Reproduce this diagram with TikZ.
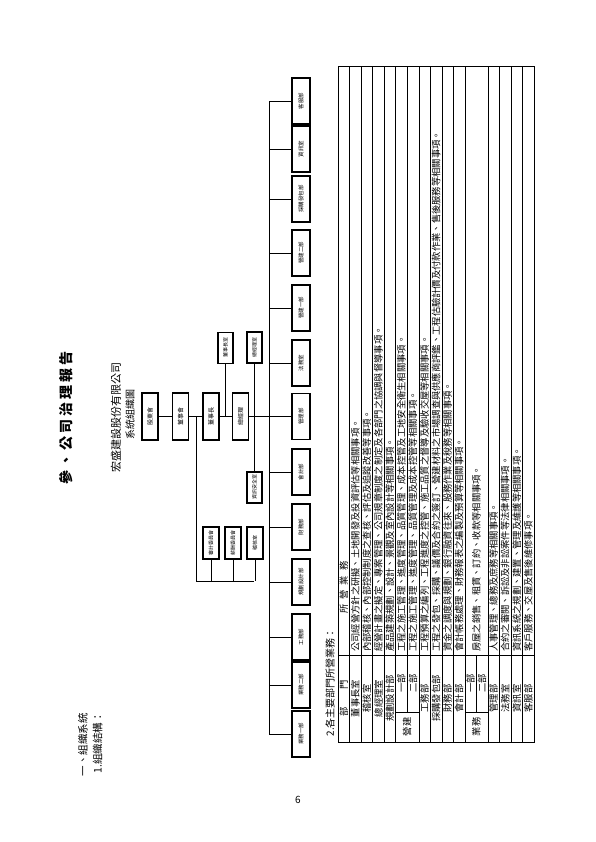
\documentclass[tikz,border=0pt]{standalone}
\usepackage{fontspec}
\setmainfont{Noto Sans CJK TC}

\tikzset{
  orgbox/.style={draw, line width=1.1pt, inner sep=0pt, align=center},
  topbox/.style={orgbox, minimum width=47pt, minimum height=16pt, font=\fontsize{6}{7}\selectfont},
  deptbox/.style={orgbox, minimum width=46pt, minimum height=18pt, font=\fontsize{5.5}{6}\selectfont},
  sidebox/.style={orgbox, minimum width=31pt, minimum height=15pt, font=\fontsize{5}{6}\selectfont},
  link/.style={line width=0.8pt},
  celltext/.style={anchor=west, inner sep=0pt, font=\fontsize{9.3}{10}\selectfont},
  cellname/.style={inner sep=0pt, font=\fontsize{9.3}{10}\selectfont}
}

\begin{document}
\begin{tikzpicture}[x=1pt, y=1pt]
  \useasboundingbox (0,0) rectangle (595,842);

  % page number (upright)
  \node[font=\fontsize{10}{12}\selectfont] (pgnum) at (298,42) {6};

  % the page content is set sideways
  \begin{scope}[shift={(595,0)}, rotate=90, transform shape]

    % --- Headings ---
    \node[font=\fontsize{14}{16}\selectfont\bfseries] (title) at (424,529)
      {參\hspace{3pt}、\hspace{3pt}公\hspace{3pt}司\hspace{3pt}治\hspace{3pt}理\hspace{3pt}報\hspace{3pt}告};
    \node[anchor=west, font=\fontsize{10.5}{12}\selectfont] (secI) at (62,512) {一、組織系統};
    \node[anchor=west, font=\fontsize{10.5}{12}\selectfont] (secIa) at (65,497.5) {1.組織結構：};
    \node[font=\fontsize{11}{13}\selectfont] (company) at (424,479) {宏盛建設股份有限公司};
    \node[font=\fontsize{10}{12}\selectfont] (chartname) at (427,465) {系統組織圖};

    % --- Main line of command ---
    \node[topbox] (gdh) at (425.5,445) {股東會};
    \node[topbox] (dsh) at (425.5,414.5) {董事會};
    \node[topbox] (dsz) at (425.5,384) {董事長};
    \node[topbox] (zjl) at (425.5,354.5) {總經理};
    \draw[link] (gdh) -- (dsh);
    \draw[link] (dsh) -- (dsz);
    \draw[link] (dsz) -- (zjl);

    % staff units
    \node[sidebox] (dszs) at (494,369.5) {董事長室};
    \draw[link] (dszs.west) -- (dszs.west -| dsz.center);
    \node[sidebox] (zjls) at (494.5,340.5) {總經理室};
    \node[sidebox] (zxs) at (354.5,340.5) {資訊安全室};
    \draw[link] (zxs.east) -- (zjls.west);

    % committees under the board
    \coordinate (cmA) at (425.5,399);
    \coordinate (cmB) at (261,399);
    \coordinate (cmC) at (261,341);
    \draw[link] (cmA) -- (cmB) -- (cmC);
    \node[sidebox, minimum width=32pt, minimum height=16pt] (cmt1) at (299,384) {審計委員會};
    \node[sidebox, minimum width=32pt, minimum height=16pt] (cmt2) at (299,362) {薪酬委員會};
    \node[sidebox, minimum width=32pt, minimum height=16pt] (cmt3) at (299,340) {稽核室};
    \foreach \i in {1,2,3}
      \draw[link] (cmt\i.west) -- (cmt\i.west -| cmB);

    % --- Departments ---
    \coordinate (busL) at (108,326);
    \coordinate (busR) at (741,326);
    \draw[link] (busL) -- (busR);
    \draw[link] (zjl) -- (zjl |- busL);
    \foreach \x/\name/\lab in {108/dpA/業務一部, 157/dpB/業務二部, 205/dpC/工務部,
        260/dpD/規劃設計部, 315/dpE/財務部, 370/dpF/會計部, 425.5/dpG/管理部,
        479/dpH/法務室, 534/dpI/營建一部, 589/dpJ/營建二部, 643/dpK/採購發包部,
        693/dpL/資訊室, 741/dpM/客服部} {
      \node[deptbox] (\name) at (\x,294) {\lab};
      \draw[link] (\name.north) -- (\name.north |- busL);
    }

    % --- Table of departments ---
    \node[anchor=west, font=\fontsize{10}{12}\selectfont] (secIb) at (102,265) {2.各主要部門所營業務：};
    \draw[line width=0.8pt] (100,257) rectangle (776,61);
    \draw (187,257) -- (187,61);
    \draw (130,199.35) -- (130,176.29);
    \draw (130,130.17) -- (130,107.11);
    \foreach \i in {1,...,16} {
      \pgfmathsetmacro{\by}{257-\i*11.53}
      \ifnum\i=6 \draw (130,\by) -- (776,\by);
      \else\ifnum\i=12 \draw (130,\by) -- (187,\by);
      \else \draw (100,\by) -- (776,\by);
      \fi\fi
    }

    % header row
    \node[cellname] (hdA) at (143.5,251.2) {部\hspace{18pt}門};
    \node[celltext] (hdB) at (228,251.2) {所\hspace{5pt}營\hspace{5pt}業\hspace{5pt}務};

    % single rows
    \foreach \i/\dept/\task in {
        2/董事長室/公司經營方針之研擬、土地開發及投資評估等相關事項。,
        3/稽核室/內部稽核、內部控制制度之查核、評估及追蹤改善等事項。,
        4/總經理室/經營計畫之擬定、專案管理、公司規章制度之制定及各部門之協調與督導事項。,
        5/規劃設計部/產品建築規劃、設計、景觀及室內設計等相關事項。,
        8/工務部/工程預算之編列、工程進度之控管、施工品質之督導及驗收交屋等相關事項。,
        9/採購發包部/工程之發包、採購、議價及合約之簽訂、營建材料之市場調查與供應商評鑑、工程估驗計價及付款作業、售後服務等相關事項。,
        10/財務部/資金之調度與規劃、銀行融資往來、股務作業及稅務等相關事項。,
        11/會計部/會計帳務處理、財務報表之編製及預算等相關事項。,
        14/管理部/人事管理、總務及庶務等相關事項。,
        15/法務室/合約之審閱、訴訟及非訟案件等法律相關事項。,
        16/資訊室/資訊系統之規劃、建置、管理及維護等相關事項。,
        17/客服部/客戶服務、交屋及售後維修事項。} {
      \pgfmathsetmacro{\ry}{257-(\i-0.5)*11.53}
      \node[cellname] (dp\i) at (143.5,\ry) {\dept};
      \node[celltext] (tk\i) at (190,\ry) {\task};
    }

    % grouped rows: construction
    \node[cellname] (grpA) at (115,187.82) {營建};
    \node[cellname] (dp6) at (158.5,193.59) {一部};
    \node[cellname] (dp7) at (158.5,182.06) {二部};
    \node[celltext] (tk6) at (190,193.59) {工程之施工管理、進度管理、品質管理、成本控管及工地安全衛生相關事項。};
    \node[celltext] (tk7) at (190,182.06) {工程之施工管理、進度管理、品質管理及成本控管等相關事項。};

    % grouped rows: sales
    \node[cellname] (grpB) at (115,118.64) {業務};
    \node[cellname] (dp12) at (158.5,124.41) {一部};
    \node[cellname] (dp13) at (158.5,112.88) {二部};
    \node[celltext] (tk12) at (190,118.64) {房屋之銷售、租賃、訂約、收款等相關事項。};

  \end{scope}
\end{tikzpicture}
\end{document}
